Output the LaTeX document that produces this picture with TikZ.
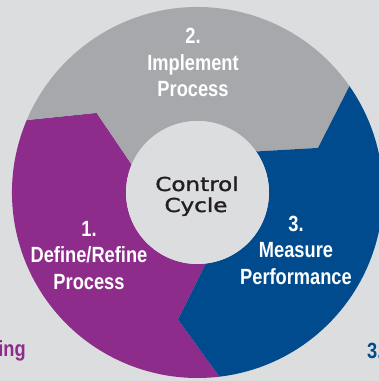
\documentclass[tikz,border=0pt]{standalone}
\usepackage{fontspec}
\newfontfamily\stepfont[FakeStretch=0.83]{Liberation Sans}
\newfontfamily\hubfont[FakeStretch=1.2,FakeBold=1.6]{DejaVu Sans}
\definecolor{bg}{HTML}{DCDDDF}
\definecolor{ringgray}{HTML}{A7A8AB}
\definecolor{ringpurple}{HTML}{8D2C8A}
\definecolor{ringblue}{HTML}{004B8D}
\definecolor{hubtext}{HTML}{231F20}
\tikzset{
  steplabel/.style={text=white, font=\stepfont\bfseries\fontsize{22}{26}\selectfont, anchor=base, inner sep=0pt},
  sidelabel/.style={font=\stepfont\bfseries\fontsize{22}{26}\selectfont, inner sep=0pt},
  hublabel/.style={text=hubtext, font=\hubfont\fontsize{19.2}{22}\selectfont, anchor=base, inner sep=0pt},
}
% ring radii and boundary angles (base on the rim, tip at mid-ring)
\def\Ro{185.5pt}
\def\Ri{71.5pt}
\def\Rm{128.5pt}
\def\bA{157}    \def\tA{141.7}  % define -> implement
\def\bB{35}     \def\tB{20.3}   % implement -> measure
\def\bC{276.8}  \def\tC{261.3}  % measure -> define
\begin{document}
\begin{tikzpicture}
\useasboundingbox (0,0) rectangle (379pt,381pt);
\clip (0,0) rectangle (379pt,381pt);
\fill[bg] (0,0) rectangle (379pt,381pt);

\begin{scope}[shift={(197.5pt,188.5pt)}]
  % 1. Define/Refine Process
  \fill[ringpurple] (\bA:\Ro) arc[start angle=\bA, end angle=\bC, radius=\Ro]
    -- (\tC:\Rm) -- (\bC:\Ri) arc[start angle=\bC, end angle=\bA, radius=\Ri]
    -- (\tA:\Rm) -- cycle;
  % 2. Implement Process
  \fill[ringgray] (\bB:\Ro) arc[start angle=\bB, end angle=\bA, radius=\Ro]
    -- (\tA:\Rm) -- (\bA:\Ri) arc[start angle=\bA, end angle=\bB, radius=\Ri]
    -- (\tB:\Rm) -- cycle;
  % 3. Measure Performance
  \fill[ringblue] (\bC-360:\Ro) arc[start angle=\bC-360, end angle=\bB, radius=\Ro]
    -- (\tB:\Rm) -- (\bB:\Ri) arc[start angle=\bB, end angle=\bC-360, radius=\Ri]
    -- (\tC:\Rm) -- cycle;
\end{scope}

% hub
\node[circle, fill=bg, minimum size=143pt, inner sep=0pt] (hub) at (197.5pt,188.5pt) {};
\node[hublabel] (hubA) at (197pt,190pt) {Control};
\node[hublabel] (hubB) at (196pt,169pt) {Cycle};

% step labels
\node[steplabel] (impA) at (193pt,337pt) {2.};
\node[steplabel] (impB) at (193pt,310pt) {Implement};
\node[steplabel] (impC) at (193pt,284pt) {Process};

\node[steplabel] (defA) at (89pt,144pt) {1.};
\node[steplabel] (defB) at (89pt,118pt) {Define/Refine};
\node[steplabel] (defC) at (89pt,92pt) {Process};

\node[steplabel] (meaA) at (296pt,149pt) {3.};
\node[steplabel] (meaB) at (296pt,123pt) {Measure};
\node[steplabel] (meaC) at (296pt,96pt) {Performance};

% neighbouring captions at the edges
\node[sidelabel, text=ringpurple, anchor=base east] (leftcap) at (26pt,24pt) {ing};
\node[sidelabel, text=ringblue, anchor=base west] (rightcap) at (367pt,23pt) {3.};
\end{tikzpicture}
\end{document}
